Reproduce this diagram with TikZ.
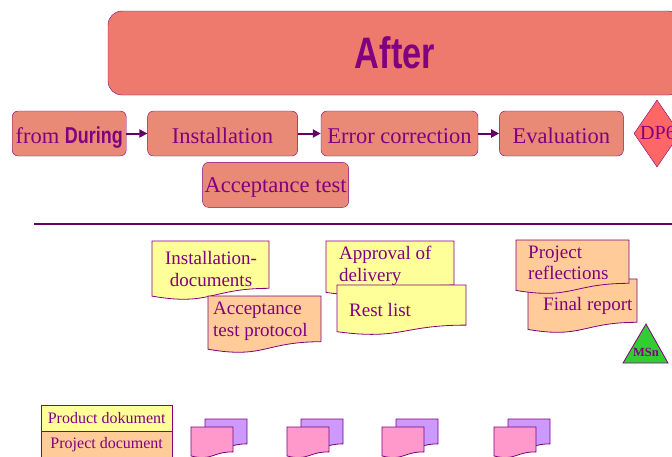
\documentclass[tikz,border=0pt]{standalone}
\usepackage{fontspec}
\setmainfont{Liberation Serif}
\newfontfamily\narrowsans[FakeStretch=0.78]{Liberation Sans}
\usetikzlibrary{shapes.geometric, arrows.meta}
\usetikzlibrary{positioning}
\definecolor{plum}{RGB}{128,0,128}
\definecolor{darkplum}{RGB}{102,0,102}
\definecolor{salmon}{RGB}{238,122,110}
\definecolor{stepfill}{RGB}{233,138,118}
\definecolor{dpred}{RGB}{255,102,102}
\definecolor{docyellow}{RGB}{255,255,153}
\definecolor{docpeach}{RGB}{255,204,153}
\definecolor{msgreen}{RGB}{51,204,51}
\definecolor{backpage}{RGB}{204,153,255}
\definecolor{frontpage}{RGB}{255,153,204}
% wavy sheet: style, x, y (top left), width, height
\newcommand{\docsheet}[5]{%
  \draw[#1] (#2,#3) -- ({#2+#4},#3) -- ({#2+#4},{#3+0.802*#5})
    .. controls ({#2+0.5*#4},{#3+0.802*#5}) and ({#2+0.5*#4},{#3+1.107*#5}) .. (#2,{#3+0.934*#5}) -- cycle;}

\begin{document}
\begin{tikzpicture}[x=1pt, y=-1pt, node distance=21pt, >={Triangle[length=8pt,width=8pt]}]

\tikzstyle{banner} = [rectangle, rounded corners=14pt, minimum width=574pt, minimum height=84pt, draw=plum, fill=salmon, text=plum]
\tikzstyle{stepbox} = [rectangle, rounded corners=6pt, minimum height=45pt, inner sep=0pt, text height=19pt, text depth=0pt, draw=plum, fill=stepfill, text=plum, font=\fontsize{22.5}{26}\selectfont]
\tikzstyle{doctext} = [align=left, text=plum, inner sep=0pt, font=\fontsize{19}{21.5}\selectfont]
\tikzstyle{legend} = [rectangle, minimum width=131pt, minimum height=26pt, inner sep=1pt, draw=plum, text=plum, font=\fontsize{16}{18}\selectfont]
\tikzstyle{sheet} = [draw=plum, line width=0.8pt]
\tikzstyle{arrow} = [line width=2pt, draw=darkplum, ->]

\useasboundingbox (0,0) rectangle (672,456);

\node (after) [banner] at (395,53) {\narrowsans\bfseries\fontsize{44}{50}\selectfont After};

\node (during) [stepbox, minimum width=114pt, anchor=west] at (12,133.5) {from {\narrowsans\bfseries\fontsize{23}{26}\selectfont During}};
\node (install) [stepbox, minimum width=150pt, right=of during] {Installation};
\node (errcorr) [stepbox, minimum width=157pt, right=23pt of install] {Error correction};
\node (evaluation) [stepbox, minimum width=124pt, right=of errcorr] {Evaluation};
\node (acctest) [stepbox, text height=15pt, minimum width=146pt, below=6pt of install, xshift=53pt] {Acceptance test};
\node (dp) [diamond, minimum width=46pt, minimum height=67pt, inner sep=0pt, draw=plum, fill=dpred] at (657,133.5) {};
\node (dplabel) [text=plum, font=\fontsize{20}{24}\selectfont] at ([xshift=1pt,yshift=1pt]dp.center) {DP6};

\draw [arrow] (during) -- (install);
\draw [arrow] (install) -- (errcorr);
\draw [arrow] (errcorr) -- (evaluation);

\draw [darkplum, line width=2pt] (34,224) -- (672,224);

% documents
\docsheet{sheet, fill=docyellow}{152}{241}{117}{59}
\node (instdocs) [doctext, align=center] at (211,269) {Installation-\\documents};
\docsheet{sheet, fill=docpeach}{208}{296}{113}{57}
\node (accprot) [doctext, anchor=west] at (213,321) {Acceptance\\test protocol};
\docsheet{sheet, fill=docyellow}{326}{241}{128}{55}
\node (approval) [doctext, anchor=west] at (339,266) {Approval of\\delivery};
\docsheet{sheet, fill=docyellow}{337}{285}{129}{50}
\node (restlist) [doctext, anchor=west] at (349,310) {Rest list};
\docsheet{sheet, fill=docpeach}{528}{279}{109}{54}
\node (finalrep) [doctext, anchor=west] at (543,306) {Final report};
\docsheet{sheet, fill=docpeach}{516}{240}{113}{54}
\node (reflect) [doctext, anchor=west] at (528,263) {Project\\reflections};

\draw [sheet, fill=msgreen] (646,324) -- (668,363) -- (623,363) -- cycle;
\node (msn) [text=plum, font=\bfseries\fontsize{12.5}{14}\selectfont] at (646,352) {MSn};

% legend
\node (proddoc) [legend, fill=docyellow, anchor=north west] at (41,405) {Product dokument};
\node (projdoc) [legend, fill=docpeach, below=0pt of proddoc] {Project document};

\foreach \x in {191,287,382,494} {
  \docsheet{sheet, fill=backpage}{\x+14}{419}{42}{31}
  \docsheet{sheet, fill=frontpage}{\x}{427}{42}{31}
}
\end{tikzpicture}
\end{document}
